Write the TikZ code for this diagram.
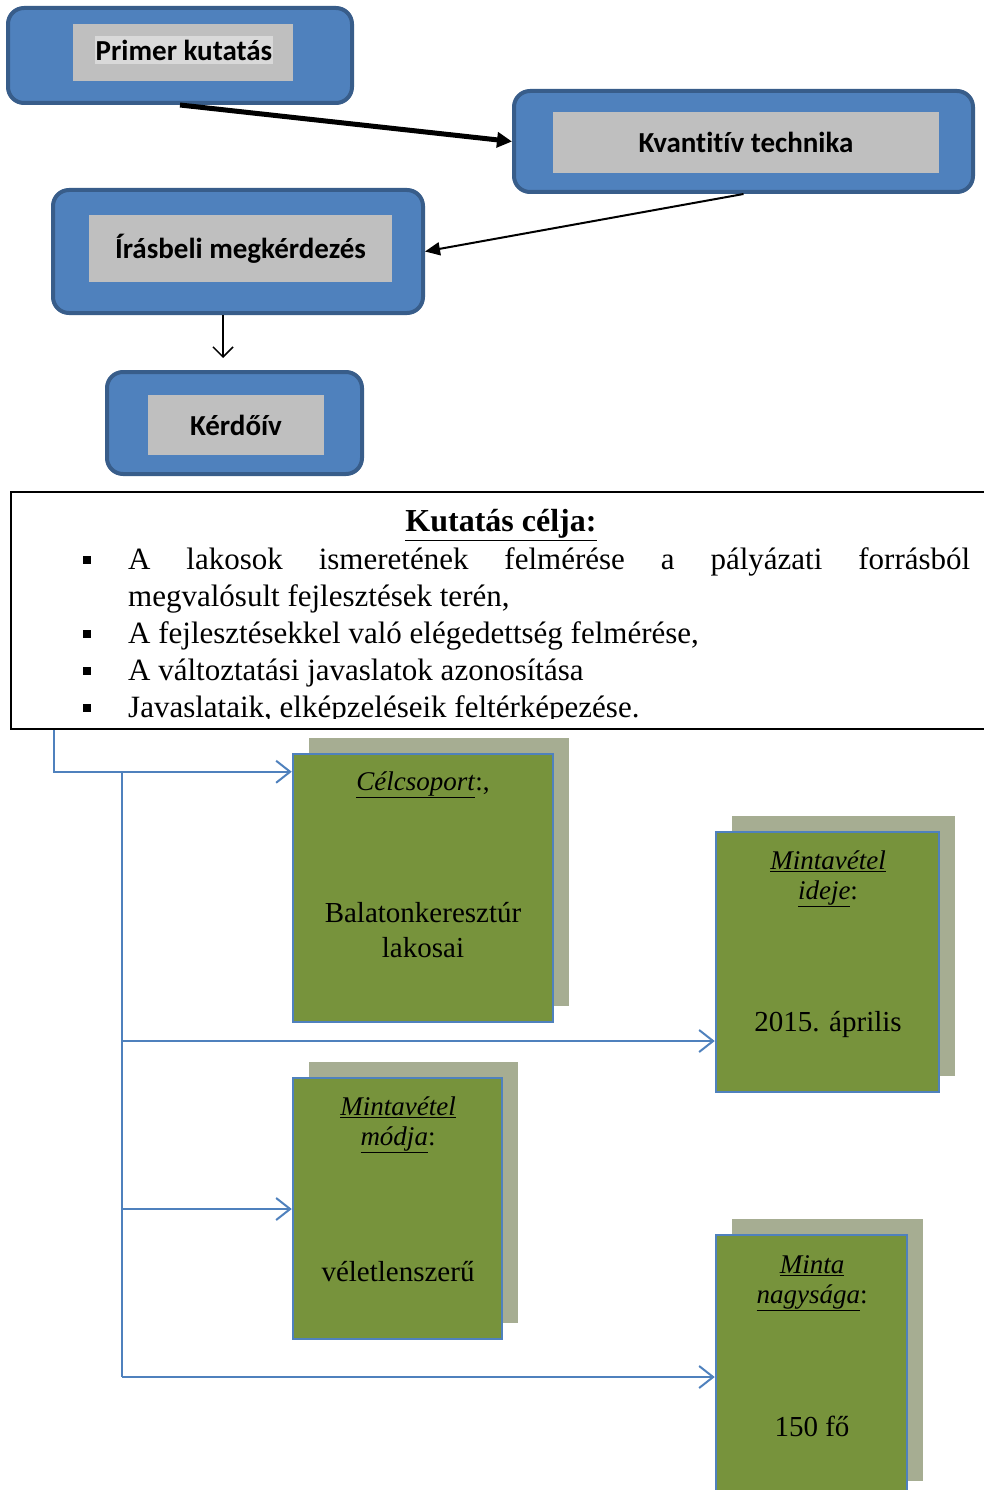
\documentclass[tikz,border=0pt]{standalone}
\usepackage{fontspec}
\setmainfont{Liberation Serif}
\newfontfamily\boxfont[Ligatures=NoCommon]{Carlito}
\usetikzlibrary{arrows.meta, positioning, shadows}
\definecolor{boxblue}{RGB}{79, 129, 189}
\definecolor{boxbluedark}{RGB}{56, 93, 138}
\definecolor{labelgray}{RGB}{191, 191, 191}
\definecolor{hilitegray}{RGB}{217, 217, 217}
\definecolor{targetgreen}{RGB}{119, 147, 60}
\definecolor{shadegreen}{RGB}{166, 173, 146}

\tikzset{
  stepframe/.style={draw=boxbluedark, fill=boxblue, line width=4pt, rounded corners=16pt, inner sep=0pt},
  steplabel/.style={fill=labelgray, inner sep=0pt, font=\boxfont\bfseries\fontsize{29}{34}\selectfont},
  infobox/.style={draw=boxblue, fill=targetgreen, line width=2.5pt, inner sep=0pt,
    drop shadow={shadow xshift=16pt, shadow yshift=16pt, fill=shadegreen, opacity=1}},
  infohead/.style={align=center, inner sep=0pt, font=\fontsize{27}{30}\selectfont},
  infotext/.style={align=center, inner sep=0pt, font=\fontsize{29}{35}\selectfont},
  link/.style={draw=boxblue, line width=2pt, -{Straight Barb[length=14pt, width=22pt]}}
}

\begin{document}
\begin{tikzpicture}[x=1pt, y=-1pt]
  \useasboundingbox (0, 0) rectangle (984, 1490);
  \clip (0, 0) rectangle (984, 1490);

  % research steps
  \node[stepframe, minimum width=344pt, minimum height=95pt] (prim) at (180, 55.5) {};
  \node[steplabel, minimum width=220pt, minimum height=57pt] (primlabel) at (183, 52.5) {};
  \node[fill=hilitegray, inner xsep=1pt, inner ysep=4pt, font=\boxfont\bfseries\fontsize{29}{34}\selectfont] (primtext) at (184, 50) {Primer kutatás};

  \node[stepframe, minimum width=459pt, minimum height=101pt] (kvant) at (743.5, 141.5) {};
  \node[steplabel, minimum width=386pt, minimum height=61pt] (kvantlabel) at (746, 142.5) {Kvantitív technika};

  \node[stepframe, minimum width=370pt, minimum height=123pt] (iras) at (238, 251.5) {};
  \node[steplabel, minimum width=303pt, minimum height=67pt] (iraslabel) at (240.5, 248.5) {\raisebox{3pt}{Írásbeli megkérdezés}};

  \node[stepframe, minimum width=255pt, minimum height=102pt] (kerd) at (234.5, 423) {};
  \node[steplabel, minimum width=176pt, minimum height=60pt] (kerdlabel) at (236, 425) {Kérdőív};

  \draw[line width=5pt, -{Triangle[length=15pt, width=15pt]}] (prim.south) -- (kvant.west);
  \draw[line width=2pt, -{Triangle[length=15pt, width=13pt]}] (kvant.south) -- (iras.east);
  \draw[line width=1.5pt, -{Straight Barb[length=10pt, width=20pt]}] ([xshift=-15pt]iras.south) -- ([xshift=-11.5pt, yshift=12pt]kerd.north);

  % research goals
  \node[draw, line width=2pt, minimum width=989pt, minimum height=237pt, inner sep=0pt] (goal) at (505.5, 610.5) {};
  \node[font=\fontsize{32}{37}\selectfont\bfseries] (goalhead) at (501, 525) {\underline{Kutatás célja:}};
  \begin{scope}
    \clip (11, 492) rectangle (984, 718);
    \node[anchor=north west, inner sep=0pt, text width=900pt, align=justify, font=\fontsize{31}{37}\selectfont] (goallist) at (70, 532) {%
      \begin{list}{\rule[5pt]{8pt}{8pt}}{\setlength{\leftmargin}{58pt}\setlength{\labelwidth}{21pt}%
        \setlength{\labelsep}{37pt}\setlength{\topsep}{0pt}\setlength{\itemsep}{0pt}%
        \setlength{\parsep}{0pt}\setlength{\partopsep}{0pt}}
      \item A lakosok ismeretének felmérése a pályázati forrásból\linebreak megvalósult fejlesztések terén,
      \item A fejlesztésekkel való elégedettség felmérése,
      \item A változtatási javaslatok azonosítása
      \item Javaslataik, elképzeléseik feltérképezése.
      \end{list}};
  \end{scope}

  % sample boxes
  \node[infobox, minimum width=260pt, minimum height=268pt] (cel) at (423, 888) {};
  \node[infohead] (celhead) at (423, 785) {\underline{\textit{Célcsoport}}:,};
  \node[infotext] (celtext) at (423, 930) {Balatonkeresztúr\\lakosai};

  \node[infobox, minimum width=223pt, minimum height=260pt] (ido) at (827.5, 962) {};
  \node[infohead] (idohead) at (828, 879) {\underline{\textit{Mintavétel}}\\\underline{\textit{ideje}}:};
  \node[infotext] (idotext) at (828, 1024) {2015. április};

  \node[infobox, minimum width=209pt, minimum height=261pt] (modja) at (397.5, 1208.5) {};
  \node[infohead] (modjahead) at (398, 1125) {\underline{\textit{Mintavétel}}\\\underline{\textit{módja}}:};
  \node[infotext] (modjatext) at (398, 1272) {véletlenszerű};

  \node[infobox, minimum width=191pt, minimum height=262pt] (nagy) at (811.5, 1366) {};
  \node[infohead] (nagyhead) at (812, 1283) {\underline{\textit{Minta}}\\\underline{\textit{nagysága}}:};
  \node[infotext] (nagytext) at (812, 1426) {150 fő};

  % connectors
  \coordinate (trunktop) at (122, 773);
  \coordinate (trunkbot) at (122, 1377);
  \coordinate (tido) at (122, 1041);
  \coordinate (tmodja) at (122, 1209);
  \draw[link] ([xshift=44pt]goal.south west) |- ([yshift=-19pt]cel.north west);
  \draw[link, -] (trunktop) -- (trunkbot);
  \draw[link] (tido) -- (tido -| ido.west);
  \draw[link] (tmodja) -- (tmodja -| modja.west);
  \draw[link] (trunkbot) -- (trunkbot -| nagy.west);
\end{tikzpicture}
\end{document}
